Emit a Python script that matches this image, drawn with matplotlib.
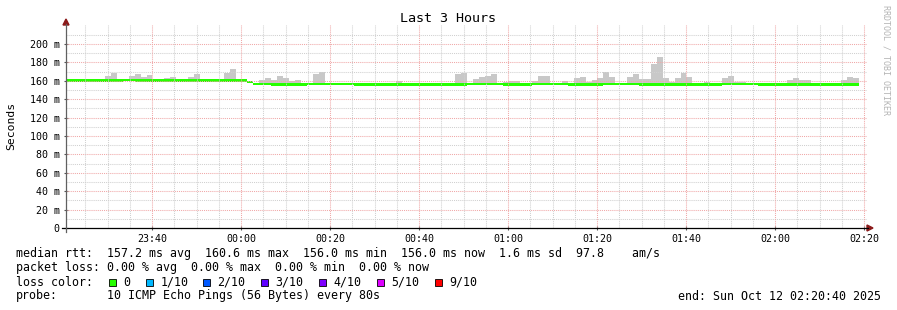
import matplotlib
matplotlib.use("Agg")
import matplotlib.pyplot as plt
from matplotlib.patches import Rectangle, Polygon
from datetime import datetime, timedelta

# ---------------- data ----------------
title = "Last 3 Hours"
ylabel = "Seconds"
watermark = "RRDTOOL / TOBI OETIKER"
end_time = datetime(2025, 10, 12, 2, 20, 40)
window_minutes = 180
first_sample = datetime(2025, 10, 11, 23, 20, 6)
step_seconds = 80

median_ms = (
    [160.5] * 10 + [160.6] * 2 + [160.5] * 19
    + [158.5]
    + [156.8] * 3 + [156.0] * 6 + [156.8] * 8 + [156.0] * 15
    + [156.0] * 4 + [156.5] * 6 + [156.0] * 5 + [156.5] * 6 + [156.0] * 6
    + [156.5] * 6 + [156.0] * 8 + [156.0] * 6 + [156.5] * 6 + [156.0] * 8
    + [156.0] * 9
)

max_ms = [
    161.5, 161.5, 161.5, 162.0, 162.0, 161.5, 161.5, 165.0, 168.5, 161.5,
    161.5, 165.0, 167.4, 164.0, 166.3, 162.0, 162.0, 163.0, 164.0, 162.0,
    162.0, 164.0, 167.0, 161.5, 161.5, 161.5, 161.5, 168.5, 172.8, 161.5,
    161.5, 159.5, 157.8, 160.8, 163.0, 160.5, 165.0, 163.0, 159.4, 160.5,
    157.0, 158.0, 167.4, 169.6, 158.0, 157.8, 157.8, 157.8, 157.8, 157.0,
    157.0, 157.0, 157.0, 157.0, 157.0, 158.0, 159.4, 157.8, 157.0, 157.0,
    157.0, 157.0, 157.0, 157.0, 157.0, 158.0, 167.4, 168.5, 157.5, 162.0,
    164.0, 165.0, 167.4, 157.5, 158.5, 159.4, 159.4, 157.0, 157.0, 159.4,
    165.0, 165.0, 158.0, 158.0, 159.4, 157.0, 163.0, 164.0, 158.5, 160.5,
    163.0, 169.6, 164.0, 157.5, 157.5, 164.0, 167.4, 162.0, 162.0, 178.0,
    186.0, 163.0, 158.5, 163.0, 168.5, 164.0, 157.0, 157.0, 158.5, 157.0,
    157.0, 163.0, 165.0, 158.5, 158.5, 157.5, 157.0, 157.0, 157.0, 157.0,
    157.0, 157.5, 160.5, 163.0, 160.5, 160.5, 157.0, 157.0, 157.0, 157.0,
    157.0, 160.5, 164.0, 163.0,
]

ytick_values = [0, 20, 40, 60, 80, 100, 120, 140, 160, 180, 200]
ytick_labels = ["0", "20 m", "40 m", "60 m", "80 m", "100 m", "120 m",
                "140 m", "160 m", "180 m", "200 m"]
xtick_labels = ["23:40", "00:00", "00:20", "00:40", "01:00", "01:20",
                "01:40", "02:00", "02:20"]

stats_line1 = "median rtt:  157.2 ms avg  160.6 ms max  156.0 ms min  156.0 ms now  1.6 ms sd  97.8    am/s"
stats_line2 = "packet loss: 0.00 % avg  0.00 % max  0.00 % min  0.00 % now"
loss_title = "loss color:"
loss_labels = ["0", "1/10", "2/10", "3/10", "4/10", "5/10", "9/10"]
loss_colors = ["#26ff00", "#00b8ff", "#0059ff", "#5e00ff", "#7e00ff",
               "#dd00ff", "#ff0000"]
probe_title = "probe:"
probe_text = "10 ICMP Echo Pings (56 Bytes) every 80s"
end_text = "end: Sun Oct 12 02:20:40 2025"

# ---------------- layout ----------------
W, H, DPI = 897, 310, 100
fig = plt.figure(figsize=(W / DPI, H / DPI), dpi=DPI)
fig.patch.set_facecolor("white")

def fx(px):
    return px / W

def fy(py):
    return 1 - py / H

X0, X1, Y0, Y1 = 66, 867, 228, 25
ax = fig.add_axes([fx(X0), fy(Y0), fx(X1) - fx(X0), fy(Y1) - fy(Y0)])
ax.set_facecolor("white")
for s in ax.spines.values():
    s.set_visible(False)

window_start = end_time - timedelta(minutes=window_minutes)
first_off = (first_sample - window_start).total_seconds() / 60.0
step_min = step_seconds / 60.0
n = len(median_ms)
lefts = [first_off + i * step_min for i in range(n)]

ax.set_xlim(0, window_minutes)
ax.set_ylim(0, 220.6)

# smoke
heights = [mx - md for mx, md in zip(max_ms, median_ms)]
ax.bar(lefts, heights, bottom=median_ms, width=step_min, align="edge",
       color="#c8c8c8", linewidth=0, zorder=2)

# median band
band = 2.6
ax.bar(lefts, [band] * n, bottom=[m - band / 2 for m in median_ms],
       width=step_min, align="edge", color=loss_colors[0], linewidth=0,
       zorder=3)

# grid
dot = (0, (1, 1))
for v in range(10, 220, 10):
    major = v % 20 == 0
    ax.axhline(v, color="#f0a8a8" if major else "#d0d0d0", lw=0.75,
               ls=dot, zorder=4)

def minutes_of(label):
    hh, mm = map(int, label.split(":"))
    t = window_start.replace(hour=hh, minute=mm, second=0)
    if t < window_start:
        t += timedelta(days=1)
    return (t - window_start).total_seconds() / 60.0

xt = [minutes_of(l) for l in xtick_labels]
first_minor = xt[0] - 15
m = first_minor
while m < window_minutes:
    is_major = any(abs(m - t) < 1e-6 for t in xt)
    ax.axvline(m, color="#f0a8a8" if is_major else "#d0d0d0", lw=0.75,
               ls=dot, zorder=4)
    m += 5

ax.set_xticks(xt)
ax.set_xticklabels(xtick_labels)
ax.set_yticks(ytick_values)
ax.set_yticklabels(ytick_labels)
ax.tick_params(axis="both", direction="inout", length=3, width=0.8,
               colors="#555555", labelcolor="black", labelsize=7.2, pad=3)
for lab in ax.get_xticklabels() + ax.get_yticklabels():
    lab.set_family("DejaVu Sans Mono")

# axes lines with arrows
fig.add_artist(plt.Line2D([fx(62), fx(868)], [fy(228), fy(228)],
                          color="black", lw=0.9))
fig.add_artist(plt.Line2D([fx(66), fx(66)], [fy(232), fy(24)],
                          color="#606060", lw=0.9))
fig.add_artist(Polygon([[fx(867), fy(225)], [fx(873), fy(228)], [fx(867), fy(231)]],
                       closed=True, color="#8b1a1a", transform=fig.transFigure))
fig.add_artist(Polygon([[fx(63), fy(25)], [fx(66), fy(19)], [fx(69), fy(25)]],
                       closed=True, color="#8b1a1a", transform=fig.transFigure))

mono = "DejaVu Sans Mono"
fig.text(fx(448), fy(19), title, ha="center", va="center", family=mono,
         fontsize=9.6)
fig.text(fx(11), fy(126), ylabel, ha="center", va="center", rotation=90,
         family=mono, fontsize=8.2)
fig.text(fx(886), fy(5), watermark, ha="center", va="top", rotation=270,
         family=mono, fontsize=6.0, color="#b4b4b4")

fs = 8.4
fig.text(fx(16), fy(254), stats_line1, ha="left", va="center", family=mono, fontsize=fs)
fig.text(fx(16), fy(268), stats_line2, ha="left", va="center", family=mono, fontsize=fs)
fig.text(fx(16), fy(282), loss_title, ha="left", va="center", family=mono, fontsize=fs)
sq_x = [109, 146, 203, 261, 319, 377, 435]
for i, (lab, col) in enumerate(zip(loss_labels, loss_colors)):
    fig.add_artist(Rectangle((fx(sq_x[i]), fy(285.5)), 7 / W, 7 / H,
                             facecolor=col, edgecolor="black", lw=0.6,
                             transform=fig.transFigure))
    fig.text(fx(sq_x[i] + 14.5), fy(282), lab, ha="left", va="center",
             family=mono, fontsize=fs)
fig.text(fx(16), fy(296), probe_title, ha="left", va="center", family=mono, fontsize=fs)
fig.text(fx(107), fy(296), probe_text, ha="left", va="center", family=mono, fontsize=fs)
fig.text(fx(881), fy(296), end_text, ha="right", va="center", family=mono, fontsize=fs)

fig.savefig("out.png", dpi=DPI, facecolor="white")
